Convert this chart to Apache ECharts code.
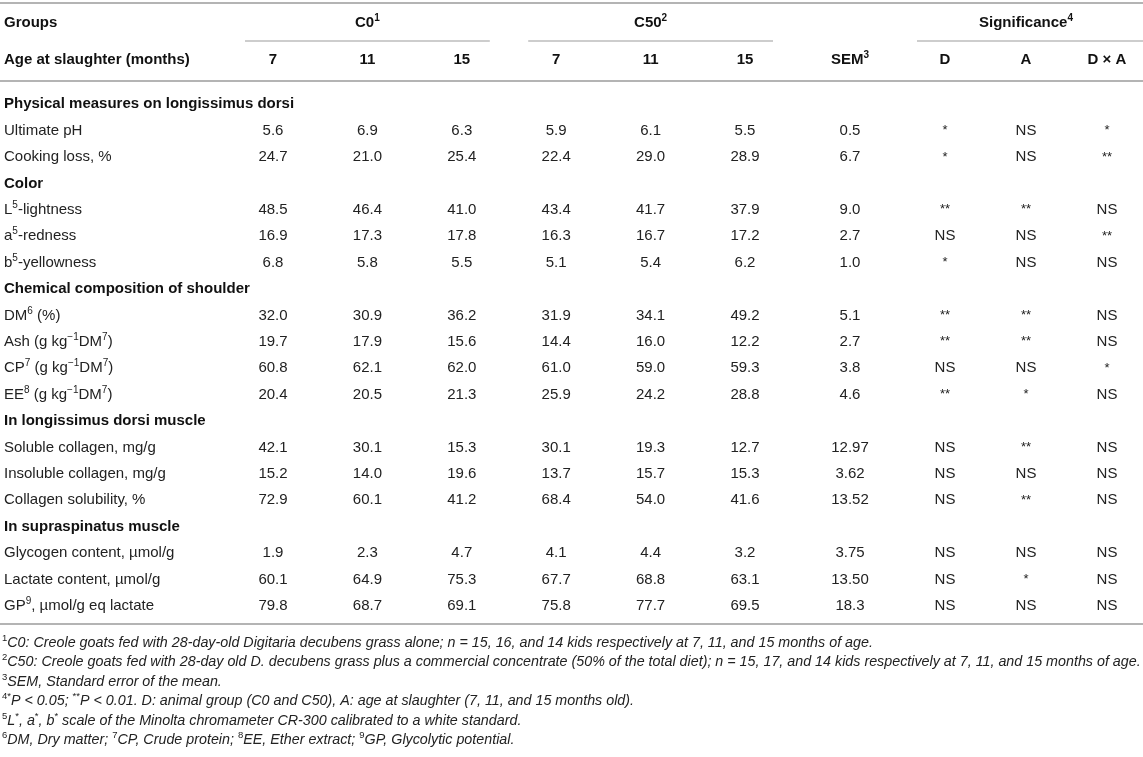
<!DOCTYPE html>
<html>
<head>
<meta charset="utf-8">
<script src="https://cdn.jsdelivr.net/npm/echarts@6/dist/echarts.min.js"></script>
<style>html,body{margin:0;padding:0;background:#fff}#c{width:1143px;height:757px}</style>
</head>
<body>
<div id="c"></div>
<script>
// ---------- DATA ----------
const headerRows = ['Groups', 'Age at slaughter (months)'];
const ageLabels = ['7', '11', '15', '7', '11', '15'];
const semLabel = ['SEM^3^'];
const sigLabels = ['D', 'A', 'D × A'];
const groupC0 = 'C0^1^';
const groupC50 = 'C50^2^';
const groupSig = 'Significance^4^';

const rowLabels = [
  'Physical measures on longissimus dorsi',
  'Ultimate pH',
  'Cooking loss, %',
  'Color',
  'L^5^-lightness',
  'a^5^-redness',
  'b^5^-yellowness',
  'Chemical composition of shoulder',
  'DM^6^ (%)',
  'Ash (g kg^−1^DM^7^)',
  'CP^7^ (g kg^−1^DM^7^)',
  'EE^8^ (g kg^−1^DM^7^)',
  'In longissimus dorsi muscle',
  'Soluble collagen, mg/g',
  'Insoluble collagen, mg/g',
  'Collagen solubility, %',
  'In supraspinatus muscle',
  'Glycogen content, µmol/g',
  'Lactate content, µmol/g',
  'GP^9^, µmol/g eq lactate'
];

const c0_7   = [null,'5.6','24.7',null,'48.5','16.9','6.8',null,'32.0','19.7','60.8','20.4',null,'42.1','15.2','72.9',null,'1.9','60.1','79.8'];
const c0_11  = [null,'6.9','21.0',null,'46.4','17.3','5.8',null,'30.9','17.9','62.1','20.5',null,'30.1','14.0','60.1',null,'2.3','64.9','68.7'];
const c0_15  = [null,'6.3','25.4',null,'41.0','17.8','5.5',null,'36.2','15.6','62.0','21.3',null,'15.3','19.6','41.2',null,'4.7','75.3','69.1'];
const c50_7  = [null,'5.9','22.4',null,'43.4','16.3','5.1',null,'31.9','14.4','61.0','25.9',null,'30.1','13.7','68.4',null,'4.1','67.7','75.8'];
const c50_11 = [null,'6.1','29.0',null,'41.7','16.7','5.4',null,'34.1','16.0','59.0','24.2',null,'19.3','15.7','54.0',null,'4.4','68.8','77.7'];
const c50_15 = [null,'5.5','28.9',null,'37.9','17.2','6.2',null,'49.2','12.2','59.3','28.8',null,'12.7','15.3','41.6',null,'3.2','63.1','69.5'];
const semVals = [null,'0.5','6.7',null,'9.0','2.7','1.0',null,'5.1','2.7','3.8','4.6',null,'12.97','3.62','13.52',null,'3.75','13.50','18.3'];
const sigD    = [null,'*','*',null,'**','NS','*',null,'**','**','NS','**',null,'NS','NS','NS',null,'NS','NS','NS'];
const sigA    = [null,'NS','NS',null,'**','NS','NS',null,'**','**','NS','*',null,'**','NS','**',null,'NS','*','NS'];
const sigDxA  = [null,'*','**',null,'NS','**','NS',null,'NS','NS','*','NS',null,'NS','NS','NS',null,'NS','NS','NS'];

const footnotes = [
  '^1^C0: Creole goats fed with 28-day-old Digitaria decubens grass alone; n = 15, 16, and 14 kids respectively at 7, 11, and 15 months of age.',
  '^2^C50: Creole goats fed with 28-day old D. decubens grass plus a commercial concentrate (50% of the total diet); n = 15, 17, and 14 kids respectively at 7, 11, and 15 months of age.',
  '^3^SEM, Standard error of the mean.',
  '^4^^*^P < 0.05; ^**^P < 0.01. D: animal group (C0 and C50), A: age at slaughter (7, 11, and 15 months old).',
  '^5^L^*^, a^*^, b^*^ scale of the Minolta chromameter CR-300 calibrated to a white standard.',
  '^6^DM, Dry matter; ^7^CP, Crude protein; ^8^EE, Ether extract; ^9^GP, Glycolytic potential.'
];

// ---------- STYLE / LAYOUT ----------
const FONT = '"Liberation Sans", Arial, Helvetica, sans-serif';
const TXT = '#222', BOLD = '#111', RULE = '#b4b4b4', ULINE = '#bdbdbd';
const HEADER_TOP = 4, HEADER_H = 74, BODY_TOP = 91, BODY_H = 528;
const PAD = 28;
const FOOT_SIZE = 14.3;

function mk(str, base, sup) {
  return String(str).split('^').map((p, i) => p === '' ? '' : '{' + (i % 2 ? sup : base) + '|' + p + '}').join('');
}
function rs(o) { const r = Object.assign({ fontFamily: FONT }, o); if (r.color) r.fill = r.color; return r; }
const RICH = {
  n: rs({ fontSize: 15, color: TXT }),
  b: rs({ fontSize: 15, color: BOLD, fontWeight: 'bold' }),
  s: rs({ fontSize: 10, color: TXT, lineHeight: 10, padding: [0, 0, 9, 0] }),
  sb: rs({ fontSize: 10, color: BOLD, fontWeight: 'bold', lineHeight: 10, padding: [0, 0, 9, 0] }),
  st: rs({ fontSize: 13, color: TXT })
};

const blocks = [
  { key: 'main', layout: { left: 273, right: 398 }, gap: false, cols: [c0_7, c0_11, c0_15, c50_7, c50_11, c50_15], head: ageLabels,
    groups: [{ name: groupC0, from: 0, to: 2 }, { name: groupC50, from: 3, to: 5 }] },
  { key: 'sem', layout: { left: 800, right: 243 }, gap: true, cols: [semVals], head: semLabel, groups: [] },
  { key: 'sig', layout: { left: 945, right: 36 }, gap: false, cols: [sigD, sigA, sigDxA], head: sigLabels,
    groups: [{ name: groupSig, from: 0, to: 2 }] }
];
const isHeading = rowLabels.map((_, r) => blocks.every(b => b.cols.every(c => c[r] == null)));

const grids = [], xAxes = [], yAxes = [], series = [];
blocks.forEach((b, k) => {
  [0, 1].forEach(part => {
    const gi = part * 3 + k;
    grids[gi] = Object.assign({ top: part ? BODY_TOP : HEADER_TOP, height: part ? BODY_H : HEADER_H }, b.layout);
    xAxes[gi] = { gridIndex: gi, type: 'category', data: b.cols.map((_, i) => i), boundaryGap: b.gap, show: false };
    const isLabelAxis = k === 0;
    yAxes[gi] = {
      gridIndex: gi, type: 'category', inverse: true, boundaryGap: true,
      data: part ? rowLabels : headerRows,
      show: isLabelAxis,
      axisLine: { show: false }, axisTick: { show: false }, splitLine: { show: false },
      axisLabel: {
        show: isLabelAxis, interval: 0, align: 'left', margin: 269,
        formatter: (v, i) => part ? mk(v, isHeading[i] ? 'b' : 'n', isHeading[i] ? 'sb' : 's') : mk(v, 'b', 'sb'),
        rich: RICH
      }
    };
  });
});

function textEl(pt, text) {
  return { type: 'text', x: pt[0], y: pt[1], silent: true,
    style: { text: text, rich: RICH, align: 'center', verticalAlign: 'middle', fill: TXT, fontFamily: FONT, fontSize: 15 } };
}

// header text + underlines
blocks.forEach((b, k) => {
  const cells = [];
  b.head.forEach((h, c) => cells.push({ c: c, r: 1, t: mk(h, 'b', 'sb') }));
  b.groups.forEach(g => cells.push({ c: Math.round((g.from + g.to) / 2), r: 0, t: mk(g.name, 'b', 'sb') }));
  series.push({
    type: 'custom', xAxisIndex: k, yAxisIndex: k, silent: true, animation: false,
    data: cells.map(d => [d.c, d.r]),
    renderItem: (params, api) => textEl(api.coord([api.value(0), api.value(1)]), cells[params.dataIndex].t)
  });
  if (b.groups.length) {
    series.push({
      type: 'custom', xAxisIndex: k, yAxisIndex: k, silent: true, animation: false,
      data: b.groups.map(g => [g.from, 0, g.to]),
      renderItem: (params, api) => {
        const p1 = api.coord([api.value(0), 0]);
        const p2 = api.coord([api.value(2), 0]);
        const y = p1[1] + api.size([0, 1])[1] / 2;
        const W = api.getWidth();
        const x2 = p2[0] + PAD * 2 > W ? W : p2[0] + PAD;
        return { type: 'line', silent: true, shape: { x1: p1[0] - PAD, y1: y, x2: x2, y2: y },
          style: { stroke: ULINE, lineWidth: 1.3 } };
      }
    });
  }
});

// full-width rules
series.push({
  type: 'custom', xAxisIndex: 0, yAxisIndex: 0, silent: true, animation: false, data: [[0, 0]],
  renderItem: (params, api) => {
    const cs = params.coordSys, W = api.getWidth();
    const ys = [cs.y - 1, cs.y + cs.height + 3];
    return { type: 'group', children: ys.map(y => ({ type: 'line', shape: { x1: 0, y1: y, x2: W, y2: y }, style: { stroke: RULE, lineWidth: 2 } })) };
  }
});
series.push({
  type: 'custom', xAxisIndex: 3, yAxisIndex: 3, silent: true, animation: false, data: [[0, 0]],
  renderItem: (params, api) => {
    const cs = params.coordSys, W = api.getWidth();
    const y = cs.y + cs.height + 5;
    return { type: 'line', shape: { x1: 0, y1: y, x2: W, y2: y }, style: { stroke: RULE, lineWidth: 2 } };
  }
});

// body cells
blocks.forEach((b, k) => {
  const cells = [];
  b.cols.forEach((col, c) => col.forEach((v, r) => {
    if (v == null) return;
    cells.push({ c: c, r: r, t: /^\*+$/.test(v) ? '{st|' + v + '}' : mk(v, 'n', 's') });
  }));
  series.push({
    type: 'custom', xAxisIndex: 3 + k, yAxisIndex: 3 + k, silent: true, animation: false,
    data: cells.map(d => [d.c, d.r]),
    renderItem: (params, api) => textEl(api.coord([api.value(0), api.value(1)]), cells[params.dataIndex].t)
  });
});

const chart = echarts.init(document.getElementById('c'));
chart.setOption({
  animation: false,
  backgroundColor: '#fff',
  title: {
    left: 2, top: 633, padding: 0,
    text: footnotes.map(f => mk(f, 'i', 's')).join('\n'),
    textStyle: {
      fontFamily: FONT, fontSize: FOOT_SIZE, fontStyle: 'italic', fontWeight: 'normal', color: TXT, lineHeight: 19.5,
      rich: {
        i: { fontFamily: FONT, fontSize: FOOT_SIZE, fontStyle: 'italic', color: TXT, lineHeight: 19.5 },
        s: { fontFamily: FONT, fontSize: 9.5, fontStyle: 'normal', color: TXT, lineHeight: 10, padding: [0, 0, 9, 0] }
      }
    }
  },
  grid: grids,
  xAxis: xAxes,
  yAxis: yAxes,
  series: series
});
</script>
</body>
</html>
